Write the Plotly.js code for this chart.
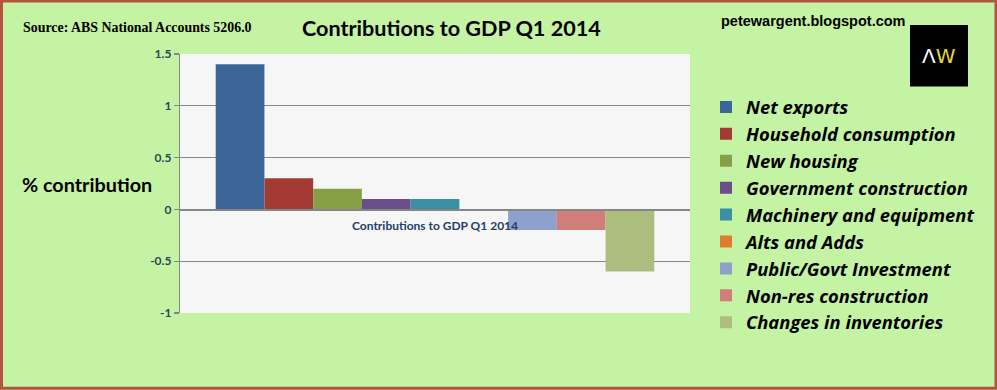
<!DOCTYPE html>
<html>
<head>
<meta charset="utf-8">
<script src="https://cdn.plot.ly/plotly-3.0.1.min.js"></script>
<style>html,body{margin:0;padding:0;background:#c5f3a4;}#chart{width:997px;height:390px;}</style>
</head>
<body>
<div id="chart"></div>
<script>
// ---- data ----
const category = ["Contributions to GDP Q1 2014"];
const seriesNames = ["Net exports", "Household consumption", "New housing", "Government construction",
  "Machinery and equipment", "Alts and Adds", "Public/Govt Investment", "Non-res construction",
  "Changes in inventories"];
const seriesValues = [1.4, 0.3, 0.2, 0.1, 0.1, 0, -0.2, -0.2, -0.6];
const seriesColors = ["#3d6698", "#a33a33", "#87a045", "#6a4e8a", "#3a8fa5", "#e07a2e", "#8ea1cc", "#cf7e7a", "#acbe7d"];
const yTickVals = [-1, -0.5, 0, 0.5, 1, 1.5];
const yTickText = ["-1", "-0.5", "0", "0.5", "1", "1.5"];

// ---- layout helpers (pixel -> paper) ----
const W = 997, H = 390, L = 180, R = 690, T = 53.5, B = 313;
const px = x => (x - L) / (R - L);
const py = y => (B - y) / (B - T);

const traces = seriesNames.map((n, i) => ({
  type: 'bar', name: n, x: category, y: [seriesValues[i]],
  marker: {color: seriesColors[i]}, hoverinfo: 'name+y'
}));

const layout = {
  width: W, height: H,
  margin: {l: L, r: W - R, t: T, b: H - B, pad: 0},
  paper_bgcolor: '#c5f3a4',
  plot_bgcolor: '#f6f6f6',
  barmode: 'group', bargap: 0.14, bargroupgap: 0,
  showlegend: true,
  legend: {
    x: px(706), y: py(88), xanchor: 'left', yanchor: 'top',
    bgcolor: 'rgba(0,0,0,0)',
    font: {family: '"Open Sans", "Noto Sans", sans-serif', size: 18.4, weight: 'bold', style: 'italic', color: '#000'},
    traceorder: 'normal', itemclick: false
  },
  xaxis: {
    type: 'category', anchor: 'free', position: py(209.3),
    showline: true, linecolor: '#868686', linewidth: 1.2,
    ticks: '', showgrid: false, zeroline: false, ticklabelstandoff: 5,
    tickfont: {family: 'Lato, sans-serif', size: 12, weight: 'bold', color: '#24406a'},
    fixedrange: true
  },
  yaxis: {
    range: [-1, 1.5], tickvals: yTickVals, ticktext: yTickText,
    showgrid: true, gridcolor: '#888888', gridwidth: 1.2,
    zeroline: false, showline: true, linecolor: '#868686', linewidth: 1.2,
    ticks: 'outside', ticklen: 5, tickcolor: '#868686', tickwidth: 1.2,
    tickfont: {family: 'Lato, sans-serif', size: 12, weight: 'bold', color: '#2c4658'},
    fixedrange: true
  },
  shapes: [
    // outer brown frame
    {type: 'rect', xref: 'paper', yref: 'paper', x0: px(1.5), x1: px(996), y0: py(388.5), y1: py(0.5),
     line: {color: '#b4533f', width: 3}, fillcolor: 'rgba(0,0,0,0)', layer: 'above'},
    // logo
    {type: 'rect', xref: 'paper', yref: 'paper', x0: px(910), x1: px(968), y0: py(86), y1: py(24.5),
     line: {width: 0}, fillcolor: '#000000', layer: 'above'}
  ],
  annotations: [
    {xref: 'paper', yref: 'paper', x: px(21), y: py(27), xanchor: 'left', yanchor: 'middle', showarrow: false,
     text: 'Source: ABS National Accounts 5206.0',
     font: {family: '"Liberation Serif", serif', size: 13.9, weight: 'bold', color: '#000'}},
    {xref: 'paper', yref: 'paper', x: px(451), y: py(27), xanchor: 'center', yanchor: 'middle', showarrow: false,
     text: 'Contributions to GDP Q1 2014',
     font: {family: 'Lato, sans-serif', size: 21.6, weight: 'bold', color: '#000'}},
    {xref: 'paper', yref: 'paper', x: px(719), y: py(20), xanchor: 'left', yanchor: 'middle', showarrow: false,
     text: 'petewargent.blogspot.com',
     font: {family: '"Liberation Sans", Arial, sans-serif', size: 14.5, weight: 'bold', color: '#000'}},
    {xref: 'paper', yref: 'paper', x: px(20), y: py(184), xanchor: 'left', yanchor: 'middle', showarrow: false,
     text: '% contribution',
     font: {family: 'Lato, sans-serif', size: 19.8, weight: 'bold', color: '#000'}},
    {xref: 'paper', yref: 'paper', x: px(939), y: py(56), xanchor: 'center', yanchor: 'middle', showarrow: false,
     text: '<span style="color:#ffffff">Λ</span><span style="color:#e6d637">W</span>',
     font: {family: '"DejaVu Sans", sans-serif', size: 20, weight: 'normal', color: '#fff'}}
  ]
};

Plotly.newPlot('chart', traces, layout, {displayModeBar: false, staticPlot: true});
</script>
</body>
</html>
